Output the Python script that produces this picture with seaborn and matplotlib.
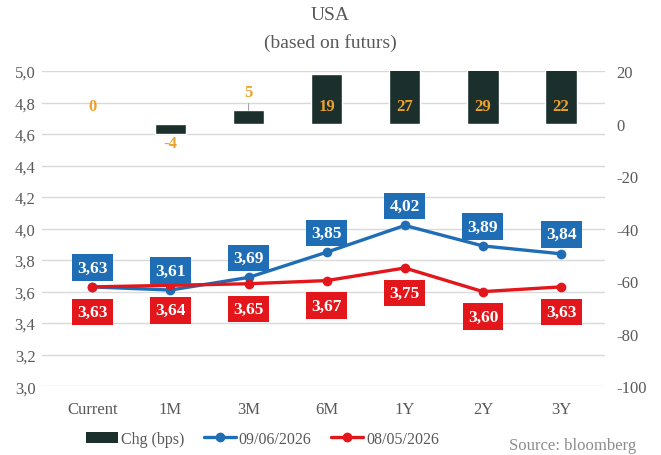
import numpy as np
import pandas as pd
import seaborn as sns
import matplotlib
matplotlib.use("Agg")
import matplotlib.pyplot as plt
from matplotlib.ticker import FuncFormatter, FixedLocator
from matplotlib.patches import Patch
from matplotlib.lines import Line2D

categories = ["Current", "1M", "3M", "6M", "1Y", "2Y", "3Y"]
chg_bps = [0, -4, 5, 19, 27, 29, 22]
rates_0906 = [3.63, 3.61, 3.69, 3.85, 4.02, 3.89, 3.84]
rates_0805 = [3.63, 3.64, 3.65, 3.67, 3.75, 3.60, 3.63]
left_ticks = [3.0, 3.2, 3.4, 3.6, 3.8, 4.0, 4.2, 4.4, 4.6, 4.8, 5.0]
right_ticks = [-100, -80, -60, -40, -20, 0, 20]

BAR = "#1b2f2c"
BLUE = "#1f6db4"
RED = "#e3161b"
ORANGE = "#eda12f"
GRAY = "#595959"
GRID = "#d9d9d9"

sns.set_theme(style="white")
plt.rcParams["font.family"] = ["Liberation Serif", "DejaVu Serif"]

fig = plt.figure(figsize=(6.61, 4.56), dpi=100)
ax = fig.add_axes([0.064, 0.151, 0.851, 0.691])
ax2 = ax.twinx()

df = pd.DataFrame({"cat": categories, "chg": chg_bps,
                   "r1": rates_0906, "r2": rates_0805})
df["pos"] = np.arange(len(categories))

# bars on right axis (drawn above the left-axis grid)
sns.barplot(data=df, x="cat", y="chg", ax=ax2, color=BAR, saturation=1,
            width=0.4, order=categories)
ax2.set_ylim(-100, 20)
ax.set_zorder(1)
ax2.set_zorder(2)
ax2.patch.set_visible(False)

# lines on left axis
sns.lineplot(data=df, x="pos", y="r1", ax=ax, color=BLUE, marker="o",
             markersize=7, linewidth=2.4, markeredgewidth=0)
sns.lineplot(data=df, x="pos", y="r2", ax=ax, color=RED, marker="o",
             markersize=7, linewidth=2.4, markeredgewidth=0)
ax.set_ylim(3.0, 5.0)
ax.set_xlim(-0.64, 6.56)

ax.yaxis.set_major_locator(FixedLocator(left_ticks))
ax.yaxis.set_major_formatter(FuncFormatter(lambda v, p: f"{v:.1f}".replace(".", ",")))
ax2.yaxis.set_major_locator(FixedLocator(right_ticks))
ax2.yaxis.set_major_formatter(FuncFormatter(lambda v, p: f"{v:.0f}"))
ax.set_xticks(np.arange(len(categories)))
ax.set_xticklabels(categories)
ax.grid(axis="y", color=GRID, linewidth=1)
ax.grid(axis="x", visible=False)
ax2.grid(False)
for a in (ax, ax2):
    for s in a.spines.values():
        s.set_visible(False)
    a.set_xlabel("")
    a.set_ylabel("")
ax.tick_params(axis="both", colors=GRAY, labelsize=12, length=0, pad=5)
ax.tick_params(axis="x", pad=11)
ax2.tick_params(axis="y", colors=GRAY, labelsize=12, length=0, pad=8)

# bar labels
for i, v in enumerate(chg_bps):
    if v < 0:
        ax2.text(i, v - 3.4, f"{v}", ha="center", va="center", color=ORANGE,
                 fontsize=12, fontweight="bold", zorder=5)
    elif 0 < v < 10:
        ax2.annotate(f"{v}", xy=(i, v), xytext=(i, v + 7), ha="center",
                     va="center", color=ORANGE, fontsize=12, fontweight="bold",
                     arrowprops=dict(arrowstyle="-", color="#a6a6a6", lw=0.8,
                                     shrinkA=7, shrinkB=0))
    else:
        ax2.text(i, 6.5, f"{v}", ha="center", va="center", color=ORANGE,
                 fontsize=12, fontweight="bold", zorder=5)

# line labels
for i, v in enumerate(rates_0906):
    ax.annotate(f"{v:.2f}".replace(".", ","), xy=(i, v), xytext=(0, 14),
                textcoords="offset points", ha="center", va="center",
                color="white", fontsize=12.5, fontweight="bold",
                bbox=dict(boxstyle="square,pad=0.3", fc=BLUE, ec="none"))
for i, v in enumerate(rates_0805):
    ax.annotate(f"{v:.2f}".replace(".", ","), xy=(i, v), xytext=(0, -18),
                textcoords="offset points", ha="center", va="center",
                color="white", fontsize=12.5, fontweight="bold",
                bbox=dict(boxstyle="square,pad=0.3", fc=RED, ec="none"))

fig.text(0.5, 0.966, "USA", ha="center", va="center", color=GRAY, fontsize=14)
fig.text(0.5, 0.906, "(based on futurs)", ha="center", va="center", color=GRAY,
         fontsize=14)

handles = [Patch(facecolor=BAR, edgecolor="none"),
           Line2D([0], [0], color=BLUE, lw=2.4, marker="o", markersize=6),
           Line2D([0], [0], color=RED, lw=2.4, marker="o", markersize=6)]
labels = ["Chg (bps)", "09/06/2026", "08/05/2026"]
leg = fig.legend(handles, labels, loc="center", bbox_to_anchor=(0.397, 0.035),
                 ncol=3, frameon=False, fontsize=11.5, handlelength=2.0,
                 handletextpad=0.2, columnspacing=1.2)
for t in leg.get_texts():
    t.set_color(GRAY)
fig.text(0.963, 0.022, "Source: bloomberg", ha="right", va="center",
         color="#8c8c8c", fontsize=12)

fig.savefig("out.png", dpi=100)
